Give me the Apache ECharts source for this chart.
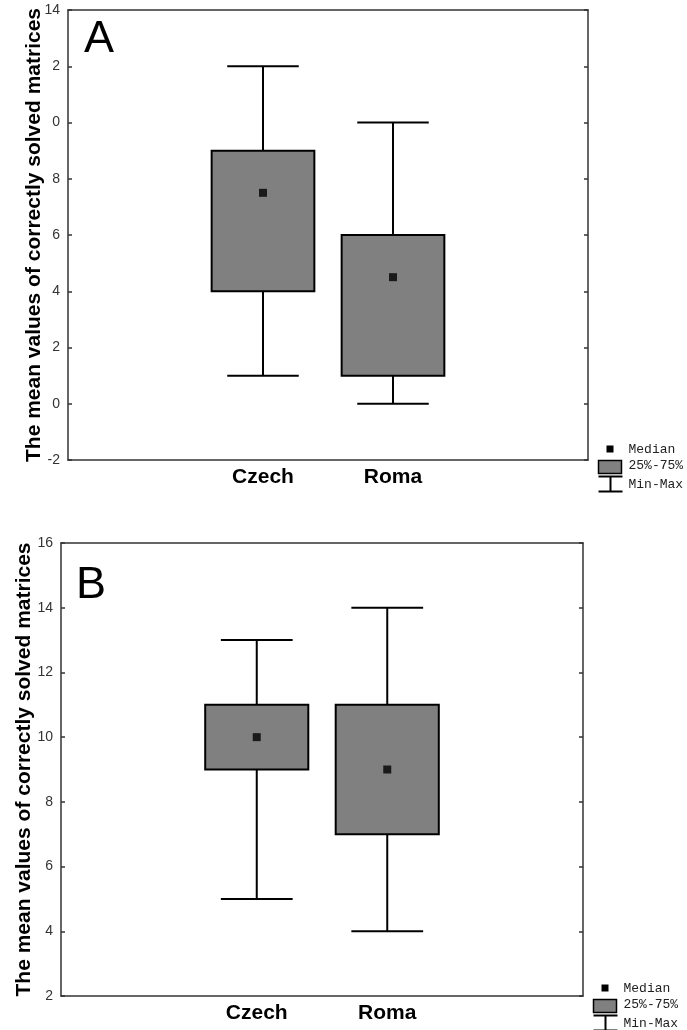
<!DOCTYPE html>
<html>
<head>
<meta charset="utf-8">
<script src="https://cdn.jsdelivr.net/npm/echarts@6/dist/echarts.min.js"></script>
<style>
  html, body { margin: 0; padding: 0; background: #fff; }
  #main { width: 687px; height: 1030px; }
</style>
</head>
<body>
<div id="main"></div>
<script>
// categories (empty slots on both sides, like the original plot)
var groups = ['', 'Czech', 'Roma', ''];

// panel A: min, 25%, median, 75%, max
var minA = [1, 0];
var q1A = [4, 1];
var medA = [7.5, 4.5];
var q3A = [9, 6];
var maxA = [12, 10];

// panel B
var minB = [5, 4];
var q1B = [9, 7];
var medB = [10, 9];
var q3B = [11, 11];
var maxB = [13, 14];

var yTitle = 'The mean values of correctly solved matrices';
var legendNames = ['Median', '25%-75%', 'Min-Max'];

function boxData(mins, q1s, q3s, maxs) {
  var out = [];
  for (var i = 0; i < mins.length; i++) {
    out.push([i + 1, mins[i], q1s[i], q3s[i], maxs[i]]);
  }
  return out;
}
function medData(meds) {
  return meds.map(function (v, i) { return [i + 1, v]; });
}

function renderBox(params, api) {
  var x = api.value(0);
  var lo = api.coord([x, api.value(1)]);
  var b1 = api.coord([x, api.value(2)]);
  var b3 = api.coord([x, api.value(3)]);
  var hi = api.coord([x, api.value(4)]);
  var band = api.size([1, 0])[0];
  var bw = band * 0.79;
  var cw = band * 0.55;
  var cx = lo[0];
  var ls = { stroke: '#000', lineWidth: 2 };
  return {
    type: 'group',
    children: [
      { type: 'line', shape: { x1: cx, y1: hi[1], x2: cx, y2: b3[1] }, style: ls },
      { type: 'line', shape: { x1: cx, y1: b1[1], x2: cx, y2: lo[1] }, style: ls },
      { type: 'line', shape: { x1: cx - cw / 2, y1: hi[1], x2: cx + cw / 2, y2: hi[1] }, style: ls },
      { type: 'line', shape: { x1: cx - cw / 2, y1: lo[1], x2: cx + cw / 2, y2: lo[1] }, style: ls },
      { type: 'rect', shape: { x: cx - bw / 2, y: b3[1], width: bw, height: b1[1] - b3[1] },
        style: { fill: '#808080', stroke: '#000', lineWidth: 2 } }
    ]
  };
}

function legendGroup(x, y) {
  var ls = { stroke: '#000', lineWidth: 2 };
  var ts = { fill: '#222', font: '13px "Liberation Mono", monospace', verticalAlign: 'middle' };
  return {
    type: 'group', left: x, top: y,
    children: [
      { type: 'rect', shape: { x: 8, y: 0, width: 7, height: 7 }, style: { fill: '#000' } },
      { type: 'rect', shape: { x: 0, y: 15, width: 23, height: 13 }, style: { fill: '#808080', stroke: '#000', lineWidth: 1.5 } },
      { type: 'line', shape: { x1: 0, y1: 31, x2: 24, y2: 31 }, style: ls },
      { type: 'line', shape: { x1: 12, y1: 31, x2: 12, y2: 46 }, style: ls },
      { type: 'line', shape: { x1: 0, y1: 46, x2: 24, y2: 46 }, style: ls },
      { type: 'text', x: 30, y: 4, style: Object.assign({ text: legendNames[0] }, ts) },
      { type: 'text', x: 30, y: 20, style: Object.assign({ text: legendNames[1] }, ts) },
      { type: 'text', x: 30, y: 39, style: Object.assign({ text: legendNames[2] }, ts) }
    ]
  };
}

var axisLineStyle = { color: '#333', width: 1.5 };

function xAxes(gridIndex) {
  return [
    {
      type: 'category', gridIndex: gridIndex, data: groups, position: 'bottom',
      axisLine: { onZero: false, lineStyle: axisLineStyle },
      axisTick: { inside: true, alignWithLabel: true, length: 4, lineStyle: axisLineStyle },
      axisLabel: { color: '#000', fontSize: 21, fontWeight: 'bold', fontFamily: 'Liberation Sans', margin: 7 }
    },
    {
      type: 'category', gridIndex: gridIndex, data: groups, position: 'top',
      axisLine: { onZero: false, lineStyle: axisLineStyle },
      axisTick: { inside: true, alignWithLabel: true, length: 4, lineStyle: axisLineStyle },
      axisLabel: { show: false }
    }
  ];
}

function yAxes(gridIndex, min, max, gap, fmt) {
  return [
    {
      type: 'value', gridIndex: gridIndex, min: min, max: max, interval: 2, position: 'left',
      name: yTitle, nameLocation: 'middle', nameRotate: 90, nameGap: gap, nameMoveOverlap: false,
      nameTextStyle: { color: '#000', fontSize: 21, fontWeight: 'bold', fontFamily: 'Liberation Sans' },
      axisLine: { show: true, onZero: false, lineStyle: axisLineStyle },
      axisTick: { show: true, inside: true, length: 4, lineStyle: axisLineStyle },
      axisLabel: { color: '#333', fontSize: 14, fontFamily: 'Liberation Sans', margin: 8, formatter: fmt },
      splitLine: { show: false }
    },
    {
      type: 'value', gridIndex: gridIndex, min: min, max: max, interval: 2, position: 'right',
      axisLine: { show: true, onZero: false, lineStyle: axisLineStyle },
      axisTick: { show: true, inside: true, length: 4, lineStyle: axisLineStyle },
      axisLabel: { show: false },
      splitLine: { show: false }
    }
  ];
}

// in panel A the leading "1" of 12 and 10 is hidden under the axis title
function fmtA(v) {
  if (v === 12 || v === 10) return String(v).slice(1);
  return String(v);
}

var myChart = echarts.init(document.getElementById('main'));
var option = {
  backgroundColor: '#fff',
  animation: false,
  title: [
    { text: 'A', left: 79, top: 12, textStyle: { fontSize: 45, fontWeight: 'normal', color: '#000', fontFamily: 'Liberation Sans' } },
    { text: 'B', left: 71, top: 558, textStyle: { fontSize: 45, fontWeight: 'normal', color: '#000', fontFamily: 'Liberation Sans' } }
  ],
  grid: [
    { left: 68, top: 10, width: 520, height: 450 },
    { left: 61, top: 543, width: 522, height: 453 }
  ],
  xAxis: xAxes(0).concat(xAxes(1)),
  yAxis: yAxes(0, -2, 14, 23, fmtA).concat(yAxes(1, 2, 16, 26)),
  graphic: [legendGroup(596, 443), legendGroup(591, 982)],
  series: [
    {
      name: 'Min-Max', type: 'custom', xAxisIndex: 0, yAxisIndex: 0,
      renderItem: renderBox, encode: { x: 0, y: [1, 2, 3, 4] },
      data: boxData(minA, q1A, q3A, maxA)
    },
    {
      name: 'Median', type: 'scatter', xAxisIndex: 0, yAxisIndex: 0,
      symbol: 'rect', symbolSize: 8, itemStyle: { color: '#000' },
      data: medData(medA), z: 5
    },
    {
      name: 'Min-Max', type: 'custom', xAxisIndex: 2, yAxisIndex: 2,
      renderItem: renderBox, encode: { x: 0, y: [1, 2, 3, 4] },
      data: boxData(minB, q1B, q3B, maxB)
    },
    {
      name: 'Median', type: 'scatter', xAxisIndex: 2, yAxisIndex: 2,
      symbol: 'rect', symbolSize: 8, itemStyle: { color: '#000' },
      data: medData(medB), z: 5
    }
  ]
};
myChart.setOption(option);
window.onresize = myChart.resize;
</script>
</body>
</html>
